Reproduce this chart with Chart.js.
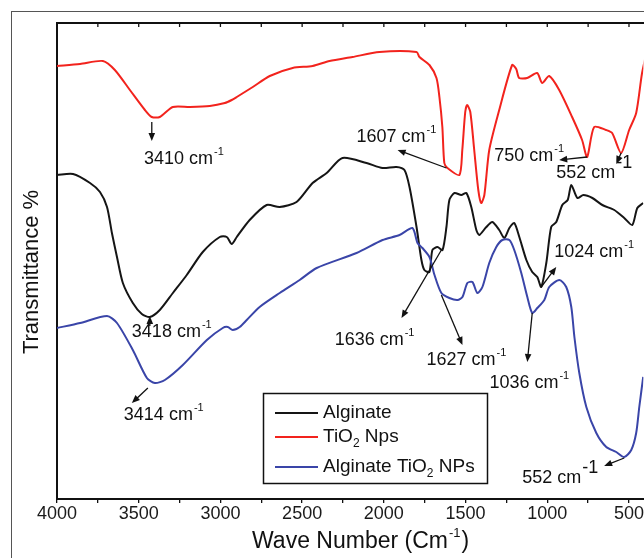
<!DOCTYPE html>
<html><head><meta charset="utf-8">
<script src="https://cdn.jsdelivr.net/npm/chart.js@4.4.1/dist/chart.umd.min.js"></script>
<style>
html,body{margin:0;padding:0;background:#fff;overflow:hidden;}
#wrap{position:relative;width:644px;height:558px;overflow:hidden;}
#frame{position:absolute;left:11px;top:11px;width:700px;height:600px;border-left:1px solid #555;border-top:1px solid #555;}
canvas{position:absolute;left:0;top:0;}
</style></head><body>
<div id="wrap"><div id="frame"></div><canvas id="c" width="644" height="558" style="width:644px;height:558px"></canvas></div>
<script>
// ---- data (wavenumber in cm-1, transmittance in arbitrary offset units) ----
const seriesNames = ['Alginate', 'TiO2 Nps', 'Alginate TiO2 NPs'];

const alginateWN = [4000,3902,3798,3737,3694,3664,3633,3597,3536,3481,3432,3371,3291,3206,3108,3004,2961,2931,2900,2821,2717,2637,2534,2436,2350,2253,2106,2008,1923,1874,1843,1800,1770,1752,1721,1703,1672,1641,1617,1599,1568,1526,1495,1465,1434,1416,1373,1336,1294,1263,1232,1202,1171,1128,1092,1061,1037,1006,976,945,908,875,853,816,779,724,663,590,529,480,449,413];
const alginateT  = [324,325,316,307,292,266,242,216,196,185,182,189,206,224,247,262,262,255,262,279,294,292,297,316,326,341,336,331,332,329,312,272,239,229,227,249,252,249,272,299,306,304,306,292,269,264,272,277,269,261,271,276,262,239,227,222,212,236,272,277,294,299,314,301,304,301,294,289,281,274,291,296];

const tio2WN = [4000,3859,3719,3646,3554,3462,3420,3371,3291,3187,3065,2973,2931,2900,2802,2698,2558,2436,2332,2192,2027,1800,1782,1721,1678,1660,1642,1630,1611,1538,1520,1502,1490,1471,1447,1422,1404,1385,1355,1294,1215,1190,1172,1123,1062,1031,988,927,848,787,756,713,640,603,548,499,456,420,389];
const tio2T  = [433,435,438,429,409,389,382,382,392,392,393,396,399,402,412,423,431,433,438,442,447,447,442,434,421,402,372,336,331,324,349,387,394,387,349,309,296,304,349,389,434,430,421,421,426,416,423,409,382,359,342,372,369,366,346,369,386,426,449];

const algTio2WN = [4000,3859,3694,3633,3536,3450,3401,3340,3230,3083,2986,2955,2925,2882,2839,2760,2637,2515,2411,2167,2008,1904,1825,1794,1764,1721,1690,1648,1599,1549,1519,1489,1458,1428,1397,1355,1312,1275,1232,1202,1159,1122,1092,1061,1018,988,926,884,853,834,804,761,700,639,578,529,486,456,437,413];
const algTio2T  = [171,176,183,176,149,121,116,119,134,159,171,172,169,172,179,192,206,219,231,246,259,264,271,256,251,242,224,206,201,199,202,216,217,206,212,236,252,259,259,249,226,202,186,191,199,212,219,212,192,162,126,92,66,52,47,42,49,66,92,122];

const xTickValues = [4000,3750,3500,3250,3000,2750,2500,2250,2000,1750,1500,1250,1000,750,500];
const xTickLabels = ['4000','','3500','','3000','','2500','','2000','','1500','','1000','','500'];

// peak annotations: label number, text anchor (wn, T), arrow from (wn,T) to (wn,T)
const peakLabels = ['3410','3418','3414','1607','750','552','1636','1627','1036','1024','552'];
const peakTextWN = [3468,3542,3591,2167,1324,945,2301,1739,1354,957,1153];
const peakTextT  = [340,167,84,362,343,326,159,139,116,247,21];
const arrowFromWN = [3420,3432,3444,1617,756,548,1648,1648,1092,1037,529];
const arrowFromT  = [377,173,111,331,342,346,249,204,186,212,41];
const arrowToWN   = [3420,3432,3542,1916,927,578,1892,1519,1122,945,652];
const arrowToT    = [358,183,96,349,339,335,181,154,137,232,33];
const bigSuperscript = [false,false,false,false,false,true,false,false,false,false,true];

const xTitle = 'Wave Number (Cm';
const yTitle = 'Transmittance %';

// ---- chart ----
const FONT = "'Liberation Sans', Arial, Helvetica, sans-serif";
const COLORS = ['#151515', '#f2231d', '#3a45a8'];
const pts = (xs, ys) => xs.map((x, i) => ({x: x, y: ys[i]}));

function arrow(ctx, x1, y1, x2, y2) {
  const a = Math.atan2(y2 - y1, x2 - x1), L = 8, W = 3.3;
  ctx.beginPath(); ctx.moveTo(x1, y1);
  ctx.lineTo(x2 - Math.cos(a) * L * 0.7, y2 - Math.sin(a) * L * 0.7); ctx.stroke();
  ctx.beginPath(); ctx.moveTo(x2, y2);
  ctx.lineTo(x2 - L * Math.cos(a) + W * Math.sin(a), y2 - L * Math.sin(a) - W * Math.cos(a));
  ctx.lineTo(x2 - L * Math.cos(a) - W * Math.sin(a), y2 - L * Math.sin(a) + W * Math.cos(a));
  ctx.closePath(); ctx.fill();
}

// draw text where a digit after "O" becomes a subscript
function drawChem(ctx, s, x, y, size) {
  const re = /(O)(\d)/g; let last = 0, m, cx = x;
  const parts = [];
  while ((m = re.exec(s))) { parts.push([s.slice(last, m.index + 1), false]); parts.push([m[2], true]); last = m.index + 2; }
  parts.push([s.slice(last), false]);
  for (const [t, sub] of parts) {
    ctx.font = (sub ? Math.round(size * 0.62) : size) + 'px ' + FONT;
    ctx.fillText(t, cx, sub ? y + size * 0.33 : y);
    cx += ctx.measureText(t).width;
  }
}

const decor = {
  id: 'decor',
  afterDatasetsDraw(chart) {
    const {ctx, chartArea: ca, scales: {x, y}} = chart;
    ctx.save();
    ctx.strokeStyle = '#111'; ctx.fillStyle = '#111';
    // top axis line and inward ticks
    ctx.lineWidth = 2;
    ctx.beginPath(); ctx.moveTo(ca.left - 1, ca.top); ctx.lineTo(ca.right + 2, ca.top); ctx.stroke();
    ctx.lineWidth = 1.3;
    xTickValues.forEach(v => { const px = x.getPixelForValue(v); ctx.beginPath(); ctx.moveTo(px, ca.top); ctx.lineTo(px, ca.top + 4); ctx.stroke(); });

    // annotations
    ctx.lineWidth = 1.3;
    ctx.textBaseline = 'middle'; ctx.textAlign = 'left';
    peakLabels.forEach((lab, i) => {
      arrow(ctx, x.getPixelForValue(arrowFromWN[i]), y.getPixelForValue(arrowFromT[i]),
                 x.getPixelForValue(arrowToWN[i]), y.getPixelForValue(arrowToT[i]));
      const tx = x.getPixelForValue(peakTextWN[i]), ty = y.getPixelForValue(peakTextT[i]);
      ctx.font = '18px ' + FONT;
      const main = lab + ' cm';
      ctx.fillText(main, tx, ty);
      const w = ctx.measureText(main).width;
      if (bigSuperscript[i]) { ctx.font = '18px ' + FONT; ctx.fillText('-1', tx + w + 1, ty - 10); }
      else { ctx.font = '11px ' + FONT; ctx.fillText('-1', tx + w + 1, ty - 7); }
    });

    // legend
    ctx.lineWidth = 1.5; ctx.strokeStyle = '#111';
    ctx.strokeRect(263.5, 393.5, 224, 90);
    const rowsY = [413, 437, 467];
    seriesNames.forEach((nm, i) => {
      ctx.strokeStyle = COLORS[i]; ctx.lineWidth = 2;
      ctx.beginPath(); ctx.moveTo(275, rowsY[i]); ctx.lineTo(318, rowsY[i]); ctx.stroke();
      ctx.fillStyle = '#111';
      drawChem(ctx, nm, 323, rowsY[i], 19);
    });

    // x title
    ctx.fillStyle = '#111';
    ctx.font = '23px ' + FONT;
    const tx0 = 252, ty0 = 542;
    ctx.fillText(xTitle, tx0, ty0);
    let w = ctx.measureText(xTitle).width;
    ctx.font = '13px ' + FONT; ctx.fillText('-1', tx0 + w + 1, ty0 - 9);
    const ws = ctx.measureText('-1').width;
    ctx.font = '23px ' + FONT; ctx.fillText(')', tx0 + w + ws + 2, ty0);

    // y title
    ctx.save();
    ctx.translate(32, 272); ctx.rotate(-Math.PI / 2);
    ctx.textAlign = 'center'; ctx.font = '22px ' + FONT;
    ctx.fillText(yTitle, 0, 0);
    ctx.restore();
    ctx.restore();
  }
};

new Chart(document.getElementById('c').getContext('2d'), {
  type: 'line',
  data: {
    datasets: [
      {label: seriesNames[2], data: pts(algTio2WN, algTio2T), borderColor: COLORS[2]},
      {label: seriesNames[0], data: pts(alginateWN, alginateT), borderColor: COLORS[0]},
      {label: seriesNames[1], data: pts(tio2WN, tio2T), borderColor: COLORS[1]}
    ].map(d => Object.assign(d, {borderWidth: 2, pointRadius: 0, tension: 0.25, fill: false}))
  },
  options: {
    responsive: false, animation: false,
    layout: {padding: {left: 0, right: 0, top: 23, bottom: 0}},
    plugins: {legend: {display: false}, tooltip: {enabled: false}},
    scales: {
      x: {
        type: 'linear', reverse: true, min: 412, max: 4000, position: 'bottom',
        afterFit(s) { s.height = 59; },
        afterBuildTicks(s) { s.ticks = xTickValues.map(v => ({value: v})); },
        ticks: {
          autoSkip: false, maxRotation: 0, padding: 0, color: '#1a1a1a',
          font: {family: FONT, size: 18},
          callback: (v) => { const i = xTickValues.indexOf(v); return i >= 0 ? xTickLabels[i] : ''; }
        },
        grid: {drawOnChartArea: false, drawTicks: true, tickLength: 4, color: '#111', lineWidth: 1.3},
        border: {color: '#111', width: 2}
      },
      y: {
        min: 0, max: 476,
        afterFit(s) { s.width = 57; },
        ticks: {display: false},
        grid: {display: false},
        border: {color: '#111', width: 2}
      }
    }
  },
  plugins: [decor]
});
</script>
</body></html>
